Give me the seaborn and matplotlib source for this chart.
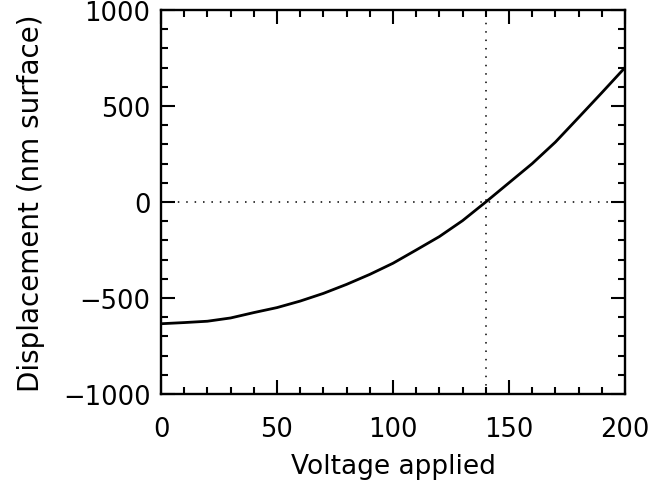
import matplotlib
matplotlib.use('Agg')
import matplotlib.pyplot as plt
from matplotlib.ticker import MultipleLocator
import seaborn as sns
import pandas as pd

# Values
voltage = [0, 10, 20, 30, 40, 50, 60, 70, 80, 90, 100,
           110, 120, 130, 140, 150, 160, 170, 180, 190, 200]
displacement = [-634, -628, -621, -604, -576, -550, -516, -476, -429, -377, -319,
                -250, -180, -97, 0, 100, 200, 312, 440, 569, 700]
zero_voltage = 140

df = pd.DataFrame({'Voltage applied': voltage,
                   'Displacement (nm surface)': displacement})

sns.set_style('ticks')
plt.rcParams['font.family'] = ['DejaVu Sans']
plt.rcParams['text.color'] = 'black'
plt.rcParams['axes.labelcolor'] = 'black'
plt.rcParams['xtick.color'] = 'black'
plt.rcParams['ytick.color'] = 'black'

fig = plt.figure(figsize=(6.5, 4.81), dpi=100)
ax = fig.add_axes([0.2477, 0.1788, 0.7138, 0.7983])

sns.lineplot(data=df, x='Voltage applied', y='Displacement (nm surface)',
             ax=ax, color='black', linewidth=2.0)

# dotted reference lines at zero displacement
ax.axhline(0, color='black', linewidth=1.1, linestyle=(0, (1, 4.5)))
ax.axvline(zero_voltage, color='black', linewidth=1.1, linestyle=(0, (1, 4.5)))

ax.set_xlim(0, 200)
ax.set_ylim(-1000, 1000)
ax.xaxis.set_major_locator(MultipleLocator(50))
ax.xaxis.set_minor_locator(MultipleLocator(10))
ax.yaxis.set_major_locator(MultipleLocator(500))
ax.yaxis.set_minor_locator(MultipleLocator(100))

ax.tick_params(which='both', direction='in', top=True, right=True,
               labelsize=18.5, width=1.5, color='black', labelcolor='black')
ax.tick_params(axis='x', which='major', length=10, pad=16)
ax.tick_params(axis='y', which='major', length=10, pad=7.5)
ax.tick_params(which='minor', length=5)

for s in ax.spines.values():
    s.set_linewidth(1.7)
    s.set_color('black')

ax.set_xlabel('Voltage applied', fontsize=19, labelpad=7.5)
ax.set_ylabel('Displacement (nm surface)', fontsize=20, labelpad=13)

plt.savefig('out.png', dpi=100)
